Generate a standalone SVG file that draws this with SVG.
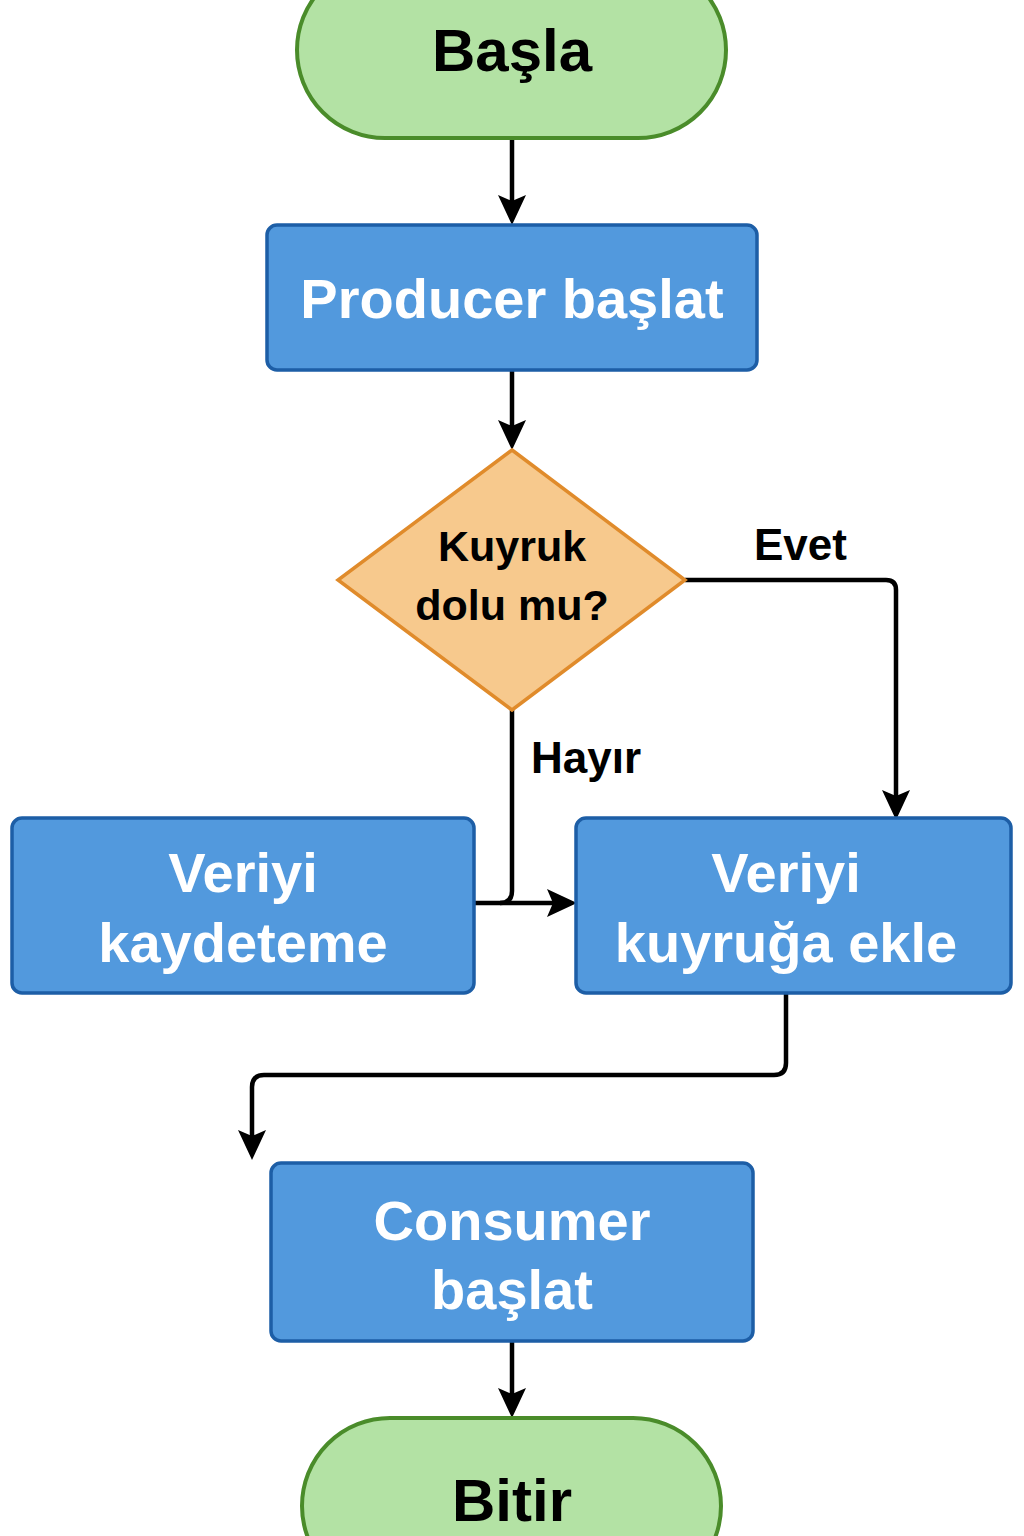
<svg xmlns="http://www.w3.org/2000/svg" width="1024" height="1536" viewBox="0 0 1024 1536">
<style>
.term{fill:#b3e2a4;stroke:#4a8c2a;stroke-width:4}
.proc{fill:#5299dd;stroke:#1d5ea6;stroke-width:3.5}
.dec{fill:#f7c98d;stroke:#e08b2b;stroke-width:3.5}
.conn{fill:none;stroke:#000;stroke-width:4.5;stroke-linejoin:round}
.tb{font-family:"Liberation Sans",Arial,sans-serif;font-weight:bold;fill:#000;text-anchor:middle}
.tw{font-family:"Liberation Sans",Arial,sans-serif;font-weight:bold;fill:#fff;text-anchor:middle;font-size:56px}
.lbl{font-family:"Liberation Sans",Arial,sans-serif;font-weight:bold;fill:#000;font-size:44px}
</style>
<defs>
<marker id="arr" markerUnits="userSpaceOnUse" markerWidth="32" markerHeight="32" viewBox="0 0 32 32" refX="22" refY="16" orient="auto">
<path d="M0,2 L30,16 L0,30 L6,16 Z" fill="#000"/>
</marker>
</defs>
<rect width="1024" height="1536" fill="#fff"/>
<g id="connectors">
<path class="conn" d="M512,138 V217" marker-end="url(#arr)"/>
<path class="conn" d="M512,370 V442" marker-end="url(#arr)"/>
<path class="conn" d="M685,580 H886 Q896,580 896,590 V812" marker-end="url(#arr)"/>
<path class="conn" d="M512,710 V891 Q512,903 500,903 H474"/>
<path class="conn" d="M500,903 H569" marker-end="url(#arr)"/>
<path class="conn" d="M786,993 V1063 Q786,1075 774,1075 H264 Q252,1075 252,1087 V1152" marker-end="url(#arr)"/>
<path class="conn" d="M512,1341 V1410" marker-end="url(#arr)"/>
</g>
<g id="start">
<rect class="term" x="297" y="-38" width="429" height="176" rx="88"/>
<text class="tb" x="512" y="71" font-size="60">Başla</text>
</g>
<g id="producer">
<rect class="proc" x="267" y="225" width="490" height="145" rx="10"/>
<text class="tw" x="512" y="318">Producer başlat</text>
</g>
<g id="decision">
<polygon class="dec" points="512,450 685,580 512,710 338,580"/>
<text class="tb" x="512" y="561" font-size="43">Kuyruk</text>
<text class="tb" x="512" y="620" font-size="43">dolu mu?</text>
</g>
<text class="lbl" x="754" y="560">Evet</text>
<text class="lbl" x="531" y="773">Hayır</text>
<g id="fail">
<rect class="proc" x="12" y="818" width="462" height="175" rx="10"/>
<text class="tw" x="243" y="892">Veriyi</text>
<text class="tw" x="243" y="962">kaydeteme</text>
</g>
<g id="enqueue">
<rect class="proc" x="576" y="818" width="435" height="175" rx="10"/>
<text class="tw" x="786" y="892">Veriyi</text>
<text class="tw" x="786" y="962">kuyruğa ekle</text>
</g>
<g id="consumer">
<rect class="proc" x="271" y="1163" width="482" height="178" rx="10"/>
<text class="tw" x="512" y="1240">Consumer</text>
<text class="tw" x="512" y="1309">başlat</text>
</g>
<g id="end">
<rect class="term" x="302" y="1418" width="419" height="176" rx="88"/>
<text class="tb" x="512" y="1521" font-size="60">Bitir</text>
</g>
</svg>
